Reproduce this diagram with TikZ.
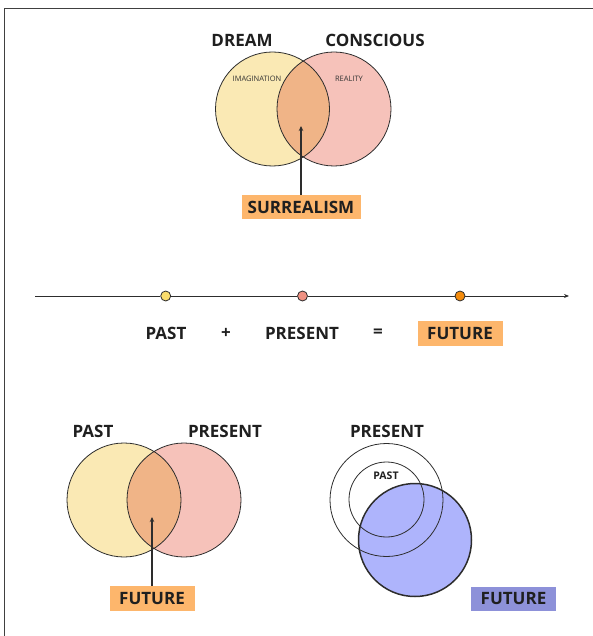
\documentclass[tikz,border=0pt]{standalone}
\usepackage{fontspec}
\setmainfont{Open Sans}
\usepackage{xcolor}
\usepackage{tikz}
\usetikzlibrary{calc}
\usetikzlibrary{arrows.meta}

\definecolor{dreamfill}{RGB}{250,233,180}
\definecolor{realfill}{RGB}{246,194,186}
\definecolor{mixfill}{RGB}{240,180,135}
\definecolor{boxorange}{RGB}{253,182,108}
\definecolor{dotyellow}{RGB}{249,220,108}
\definecolor{dotpink}{RGB}{239,145,130}
\definecolor{dotorange}{RGB}{245,140,12}
\definecolor{futblue}{RGB}{174,180,252}
\definecolor{boxblue}{RGB}{141,145,217}
\definecolor{edge}{RGB}{45,45,45}

\tikzset{
    heading/.style={font=\fontsize{17}{20}\selectfont\bfseries, text=black!88},
    smalltext/.style={font=\fontsize{7.5}{9}\selectfont, text=black!80},
    hlbox/.style={heading, minimum width=85pt, minimum height=25pt, inner sep=0pt},
    ring/.style={draw=edge, line width=0.8pt},
    tdot/.style={circle, draw=edge, line width=0.8pt, minimum size=10pt, inner sep=0pt}
}

\begin{document}
\begin{tikzpicture}[x=1pt,y=-1pt]
        \useasboundingbox (0,0) rectangle (593,636);
        %FRAME
        \draw[line width=1.5pt, black!75] (4.7,636) -- (4.7,8.5) -- (593,8.5);

        %VENN TOP
        \fill[dreamfill] (272.5,109) circle (57);
        \fill[realfill] (334,109) circle (57);
        \begin{scope}
            \clip (272.5,109) circle (57);
            \fill[mixfill] (334,109) circle (57);
        \end{scope}
        \draw[ring] (272.5,109) circle (57);
        \draw[ring] (334,109) circle (57);
        \node[heading] (dream) at (242,40.5) {DREAM};
        \node[heading] (conscious) at (375,40.5) {CONSCIOUS};
        \node[smalltext] (imag) at (257,78.5) {IMAGINATION};
        \node[smalltext] (reality) at (349,78.5) {REALITY};
        \node[hlbox, fill=boxorange, minimum width=119pt, minimum height=24pt] (surreal) at (301,207) {SURREALISM};
        \coordinate (surtip) at (301,126);
        \draw[-{Stealth[length=5pt,width=4.5pt]}, line width=1.1pt, edge] (surreal.north) -- (surtip);

        %TIMELINE
        \node[tdot, fill=dotyellow] (tpast) at (165.7,296) {};
        \node[tdot, fill=dotpink] (tpres) at (302.5,296) {};
        \node[tdot, fill=dotorange] (tfut) at (460,296) {};
        \coordinate (tstart) at (35,296);
        \coordinate (tend) at (569,296);
        \draw[edge, line width=1pt] (tstart) -- (tpast) -- (tpres) -- (tfut);
        \draw[edge, line width=1pt, -{Stealth[length=5pt,width=4pt]}] (tfut) -- (tend);
        \node[heading] (sumpast) at (166,333.5) {PAST};
        \node[heading] (plus) at (226,333.5) {+};
        \node[heading] (sumpres) at (302,333.5) {PRESENT};
        \node[heading] (equals) at (378,333.5) {=};
        \node[hlbox, fill=boxorange] (sumfut) at (460,333.5) {FUTURE};

        %VENN BOTTOM LEFT
        \fill[dreamfill] (124,500) circle (57);
        \fill[realfill] (184,500) circle (57);
        \begin{scope}
            \clip (124,500) circle (57);
            \fill[mixfill] (184,500) circle (57);
        \end{scope}
        \draw[ring] (124,500) circle (57);
        \draw[ring] (184,500) circle (57);
        \node[heading] (lpast) at (93,431.5) {PAST};
        \node[heading] (lpres) at (225,431.5) {PRESENT};
        \node[hlbox, fill=boxorange] (lfut) at (152,598.5) {FUTURE};
        \coordinate (lfuttip) at (152,517);
        \draw[-{Stealth[length=5pt,width=4.5pt]}, line width=1.1pt, edge] (lfut.north) -- (lfuttip);

        %NESTED RINGS BOTTOM RIGHT
        \fill[futblue] (415,540) circle (56.5);
        \draw[ring] (386.5,500) circle (56.5);
        \draw[ring] (386.5,499.5) circle (37.5);
        \draw[edge, line width=1.5pt] (415,540) circle (56.5);
        \node[heading] (rpres) at (387,431.5) {PRESENT};
        \node[font=\fontsize{10.5}{12}\selectfont\bfseries, text=black!88] (rpast) at (386,476) {PAST};
        \node[hlbox, fill=boxblue, minimum height=24pt] (rfut) at (513.5,598.5) {FUTURE};
    \end{tikzpicture}
\end{document}
